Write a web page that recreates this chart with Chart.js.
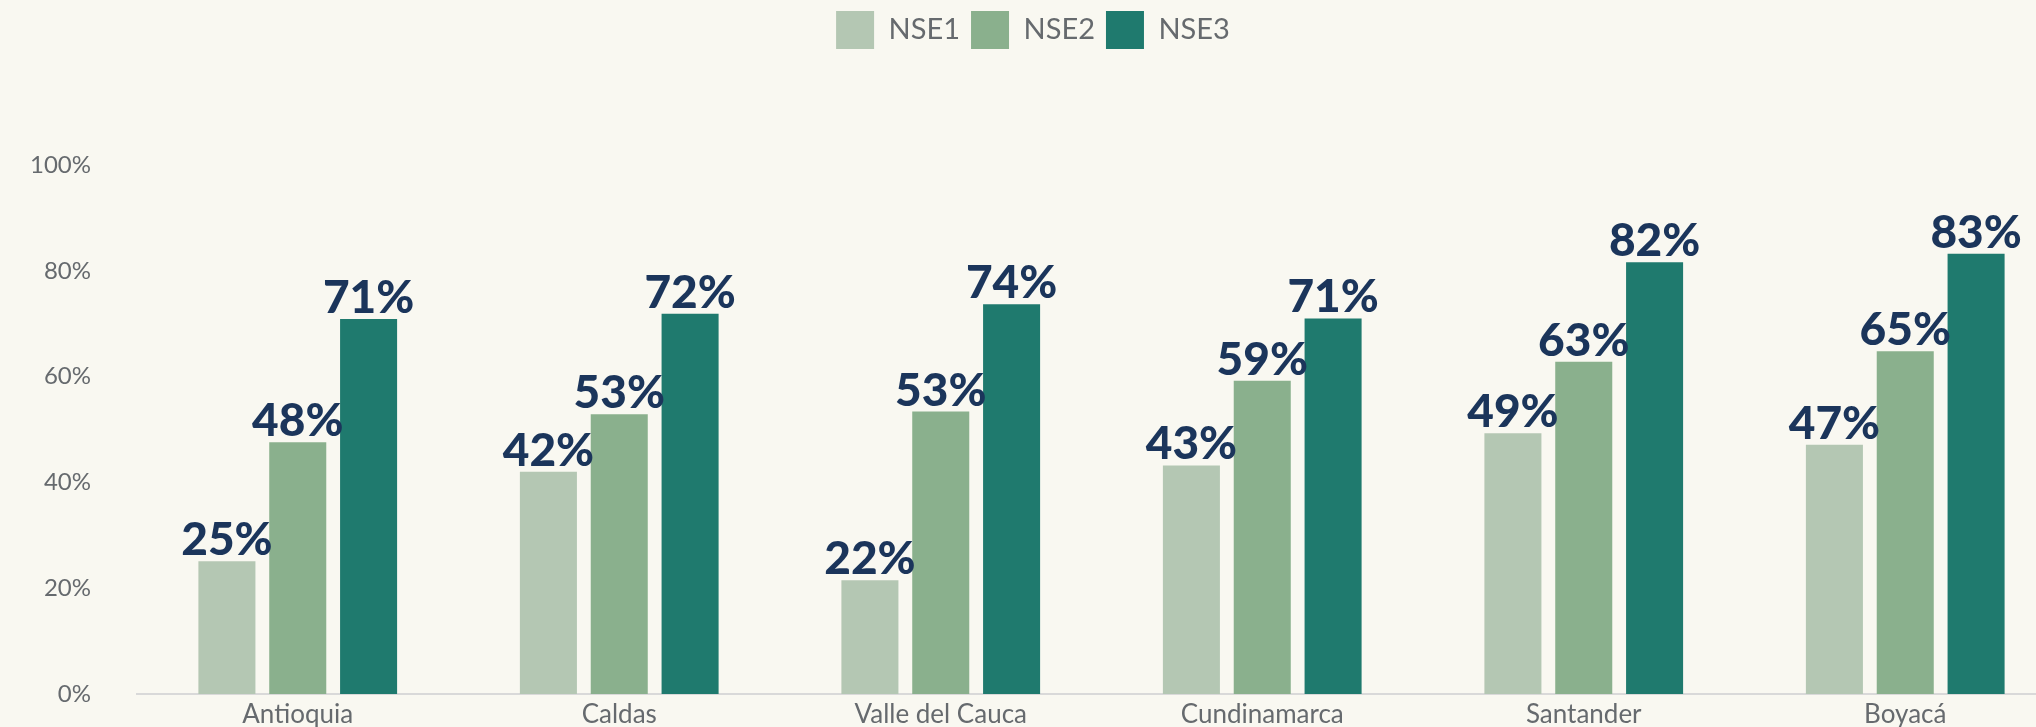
<!DOCTYPE html>
<html>
<head>
<meta charset="utf-8">
<script src="https://cdn.jsdelivr.net/npm/chart.js@4.4.1/dist/chart.umd.min.js"></script>
<style>
  html, body { margin: 0; padding: 0; background: #f9f8f1; overflow: hidden; }
  #wrap { width: 2070px; height: 727px; }
</style>
</head>
<body>
<div id="wrap"><canvas id="chart"></canvas></div>
<script>
// data
const regions = ["Antioquia", "Caldas", "Valle del Cauca", "Cundinamarca", "Santander", "Boyacá"];
const nse1 = [25.1, 42.0, 21.5, 43.2, 49.3, 47.1];
const nse2 = [47.6, 52.9, 53.4, 59.2, 62.8, 64.8];
const nse3 = [70.9, 71.9, 73.7, 71.0, 81.6, 83.2];
const yTicks = [0, 20, 40, 60, 80, 100];

const FONT = "Lato, 'Open Sans', sans-serif";
const GREY = "#666a6e";

// push the plot down below the legend
const legendSpace = {
  id: "legendSpace",
  beforeInit(chart){
    const fit = chart.legend.fit;
    chart.legend.fit = function(){
      fit.bind(chart.legend)();
      this.height += 106;
    };
  }
};

// value labels above each bar
const barLabels = {
  id: "barLabels",
  afterDatasetsDraw(chart){
    const ctx = chart.ctx;
    ctx.save();
    ctx.font = "900 46px " + FONT;
    ctx.fillStyle = "#1b355b";
    ctx.textAlign = "center";
    ctx.textBaseline = "alphabetic";
    chart.data.datasets.forEach((ds, i)=>{
      chart.getDatasetMeta(i).data.forEach((bar, j)=>{
        ctx.fillText(Math.round(ds.data[j]) + "%", bar.x, bar.y - 6);
      });
    });
    ctx.restore();
  }
};

new Chart(document.getElementById("chart"), {
  type: "bar",
  data: {
    labels: regions,
    datasets: [
      { label: "NSE1", data: nse1, backgroundColor: "#b4c7b3" },
      { label: "NSE2", data: nse2, backgroundColor: "#8ab08d" },
      { label: "NSE3", data: nse3, backgroundColor: "#1f7a6e" }
    ]
  },
  options: {
    responsive: true,
    maintainAspectRatio: false,
    animation: false,
    categoryPercentage: 0.661,
    barPercentage: 0.805,
    layout: { padding: { top: 0, right: 4, bottom: 0, left: 0 } },
    plugins: {
      legend: {
        position: "top",
        labels: {
          boxWidth: 38,
          boxHeight: 38,
          padding: 11,
          color: GREY,
          font: { family: FONT, size: 29 }
        }
      },
      tooltip: { enabled: false }
    },
    scales: {
      x: {
        afterFit(scale){ scale.height = 33; },
        grid: { display: false, drawTicks: false },
        border: { display: true, color: "#d9d9d9", width: 2 },
        ticks: { color: GREY, padding: 5, maxRotation: 0, font: { family: FONT, size: 26, lineHeight: 1.2 } }
      },
      y: {
        min: 0,
        max: 100,
        afterFit(scale){
          scale.width = 137;
          scale.paddingTop = 14;
          scale.paddingBottom = 14;
        },
        afterBuildTicks(scale){ scale.ticks = yTicks.map(v => ({ value: v })); },
        grid: { display: false, drawTicks: false },
        border: { display: false },
        ticks: {
          color: GREY,
          padding: 46,
          font: { family: FONT, size: 24 },
          callback: v => v + "%"
        }
      }
    }
  },
  plugins: [legendSpace, barLabels]
});
</script>
</body>
</html>
